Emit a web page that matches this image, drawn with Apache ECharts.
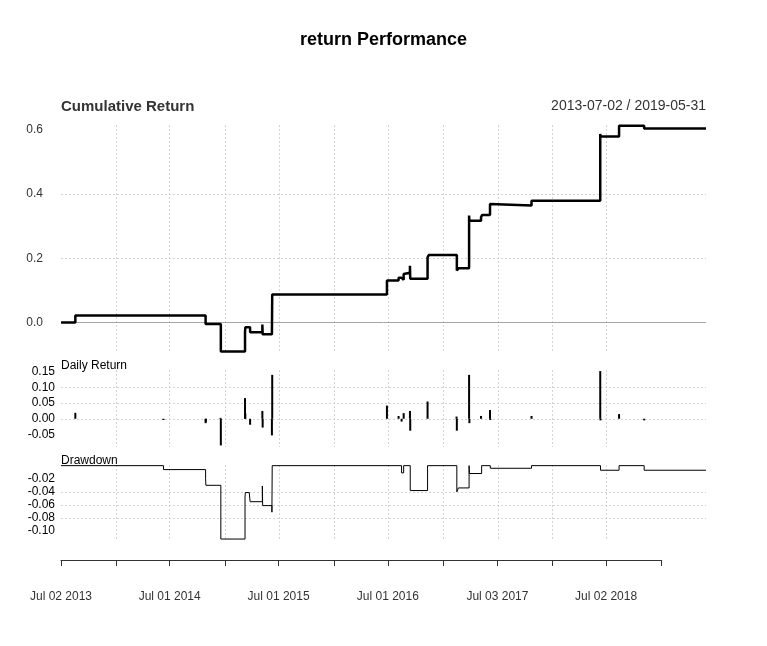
<!DOCTYPE html>
<html>
<head>
<meta charset="utf-8">
<script src="https://cdn.jsdelivr.net/npm/echarts@6/dist/echarts.min.js"></script>
<style>
html, body { margin: 0; padding: 0; background: #fff; }
#main { width: 767px; height: 646px; }
</style>
</head>
<body>
<div id="main"></div>
<script>
// cumulative return: date a level starts, and the level
var cumDates = ['2013-07-02', '2013-08-19', '2014-10-29', '2014-12-19', '2015-03-10', '2015-03-11',
  '2015-03-27', '2015-05-07', '2015-05-08', '2015-06-08', '2015-06-09', '2016-06-27', '2016-08-05',
  '2016-08-15', '2016-08-22', '2016-08-25', '2016-09-12', '2016-09-13', '2016-11-10', '2016-11-14',
  '2017-02-16', '2017-02-21', '2017-03-29', '2017-03-30', '2017-05-08', '2017-05-12', '2017-06-07',
  '2017-06-08', '2017-10-24', '2018-06-11', '2018-06-12', '2018-08-13', '2018-11-05', '2019-05-31'];
var cumValues = [0, 0.022, -0.005, -0.090, -0.030, -0.015,
  -0.030, -0.006, -0.037, -0.043, 0.087, 0.131, 0.139,
  0.133, 0.151, 0.155, 0.177, 0.136, 0.203, 0.210,
  0.162, 0.169, 0.333, 0.317, 0.328, 0.335, 0.369,
  0.364, 0.379, 0.587, 0.579, 0.613, 0.604, 0.604];

// daily returns (only the non-zero days)
var retDates = ['2013-08-19', '2014-06-10', '2014-10-29', '2014-10-30', '2014-12-18', '2014-12-19',
  '2015-03-10', '2015-03-11', '2015-03-27', '2015-05-07', '2015-05-08', '2015-06-08', '2015-06-09',
  '2016-06-27', '2016-08-05', '2016-08-15', '2016-08-22', '2016-09-12', '2016-09-13', '2016-11-10',
  '2017-02-15', '2017-02-16', '2017-03-29', '2017-03-30', '2017-05-08', '2017-06-07', '2017-06-08',
  '2017-10-24', '2018-06-11', '2018-06-12', '2018-08-13', '2018-11-05'];
var retValues = [0.019, -0.004, -0.014, -0.010, 0.003, -0.085,
  0.066, 0.017, -0.019, 0.025, -0.028, -0.053, 0.140,
  0.042, 0.009, -0.009, 0.018, 0.025, -0.038, 0.055,
  0.007, -0.038, 0.140, -0.014, 0.009, 0.028, -0.004,
  0.009, 0.152, -0.005, 0.015, -0.005];

// drawdown levels
var ddDates = ['2013-07-02', '2014-06-10', '2014-10-29', '2014-10-30', '2014-12-19', '2015-03-10',
  '2015-03-11', '2015-03-24', '2015-03-27', '2015-05-07', '2015-05-08', '2015-06-08', '2015-06-09',
  '2016-08-15', '2016-08-22', '2016-09-13', '2016-11-10', '2017-02-16', '2017-02-21', '2017-03-29',
  '2017-03-30', '2017-05-10', '2017-06-08', '2017-10-24', '2018-06-12', '2018-08-13', '2018-11-05',
  '2019-05-31'];
var ddValues = [0, -0.006, -0.020, -0.030, -0.112, -0.048,
  -0.041, -0.038, -0.055, -0.031, -0.061, -0.071, 0,
  -0.011, 0, -0.038, 0, -0.040, -0.034, 0,
  -0.012, 0, -0.004, 0, -0.007, 0, -0.007,
  -0.007];

var tickDates = ['2013-07-02', '2014-01-02', '2014-07-01', '2015-01-02', '2015-07-01', '2016-01-04',
  '2016-07-01', '2017-01-03', '2017-07-03', '2018-01-02', '2018-07-02', '2019-01-02'];
var labelDates = ['2013-07-02', '2014-07-01', '2015-07-01', '2016-07-01', '2017-07-03', '2018-07-02'];
var cumTicks = [0, 0.2, 0.4, 0.6];
var retTicks = [-0.05, 0, 0.05, 0.10, 0.15];
var ddTicks = [-0.10, -0.08, -0.06, -0.04, -0.02];
var startDate = '2013-07-02';
var endDate = '2019-05-31';

var months = ['Jan', 'Feb', 'Mar', 'Apr', 'May', 'Jun', 'Jul', 'Aug', 'Sep', 'Oct', 'Nov', 'Dec'];
var font = '"Liberation Sans", Arial, sans-serif';

// dates go on value axes as timestamps (time axis breaks with customValues)
function ts(s) {
  var p = s.split('-');
  return new Date(+p[0], +p[1] - 1, +p[2]).getTime();
}
function pairs(d, v) {
  return d.map(function (x, i) { return [ts(x), v[i]]; });
}
function pad(n) { return n < 10 ? '0' + n : '' + n; }

var grid = { color: '#d3d3d3', type: [2, 2], width: 1 };

function panelX(gi) {
  return {
    type: 'value', gridIndex: gi, min: ts(startDate), max: ts(endDate),
    axisLine: { show: false },
    axisLabel: { show: false },
    axisTick: { show: false, customValues: tickDates.map(ts) },
    splitLine: { show: true, showMinLine: false, showMaxLine: false, lineStyle: grid }
  };
}
function panelY(gi, min, max, ticks, margin, digits, color) {
  return {
    type: 'value', gridIndex: gi, min: min, max: max,
    axisLine: { show: false },
    axisTick: { show: false, customValues: ticks },
    axisLabel: {
      customValues: ticks, margin: margin, color: color, fontSize: 12, fontFamily: font,
      formatter: function (v) { return v.toFixed(digits); }
    },
    splitLine: { show: true, showMinLine: false, showMaxLine: false, lineStyle: grid }
  };
}

var chart = echarts.init(document.getElementById('main'));
chart.setOption({
  animation: false,
  backgroundColor: '#fff',
  title: [
    { text: 'return Performance', left: 'center', top: 31, padding: 0,
      textStyle: { fontSize: 18, fontWeight: 'bold', color: '#000', fontFamily: font } },
    { text: 'Cumulative Return', left: 61, top: 99, padding: 0,
      textStyle: { fontSize: 15, fontWeight: 'bold', color: '#333', fontFamily: font } },
    { text: startDate + ' / ' + endDate, right: 61, top: 99, padding: 0,
      textStyle: { fontSize: 14, fontWeight: 'normal', color: '#333', fontFamily: font } },
    { text: 'Daily Return', left: 61, top: 360, padding: 0,
      textStyle: { fontSize: 12, fontWeight: 'normal', color: '#000', fontFamily: font } },
    { text: 'Drawdown', left: 61, top: 455, padding: 0,
      textStyle: { fontSize: 12, fontWeight: 'normal', color: '#000', fontFamily: font } }
  ],
  grid: [
    { left: 61, right: 61, top: 125, height: 228 },
    { left: 61, right: 61, top: 370, height: 77 },
    { left: 61, right: 61, top: 465, height: 76 },
    { left: 61, width: 600, top: 559, height: 1 }
  ],
  xAxis: [
    panelX(0), panelX(1), panelX(2),
    {
      type: 'value', gridIndex: 3, min: ts(tickDates[0]), max: ts(tickDates[tickDates.length - 1]),
      axisLine: { show: true, lineStyle: { color: '#333', width: 1 } },
      axisTick: { show: true, length: 6, customValues: tickDates.map(ts), lineStyle: { color: '#333' } },
      axisLabel: {
        customValues: labelDates.map(ts), margin: 31, color: '#333', fontSize: 12, fontFamily: font,
        formatter: function (v) {
          var d = new Date(v);
          return months[d.getMonth()] + ' ' + pad(d.getDate()) + ' ' + d.getFullYear();
        }
      },
      splitLine: { show: false }
    }
  ],
  yAxis: [
    panelY(0, -0.095, 0.615, cumTicks, 18, 1, '#333'),
    panelY(1, -0.09, 0.1555, retTicks, 6, 2, '#000'),
    panelY(2, -0.115, 0.001, ddTicks, 6, 2, '#000'),
    { type: 'value', gridIndex: 3, show: false }
  ],
  series: [
    {
      type: 'line', xAxisIndex: 0, yAxisIndex: 0, step: 'end', showSymbol: false,
      data: pairs(cumDates, cumValues),
      lineStyle: { color: '#000', width: 2.5 },
      z: 3,
      markLine: {
        silent: true, symbol: ['none', 'none'], label: { show: false },
        lineStyle: { color: '#a6a6a6', type: 'solid', width: 1 },
        data: [{ yAxis: 0 }],
        z: 2
      }
    },
    {
      type: 'bar', xAxisIndex: 1, yAxisIndex: 1, barWidth: 2,
      data: pairs(retDates, retValues),
      itemStyle: { color: '#000' }
    },
    {
      type: 'line', xAxisIndex: 2, yAxisIndex: 2, step: 'end', showSymbol: false,
      data: pairs(ddDates, ddValues),
      lineStyle: { color: '#000', width: 1 }
    }
  ]
});
</script>
</body>
</html>
